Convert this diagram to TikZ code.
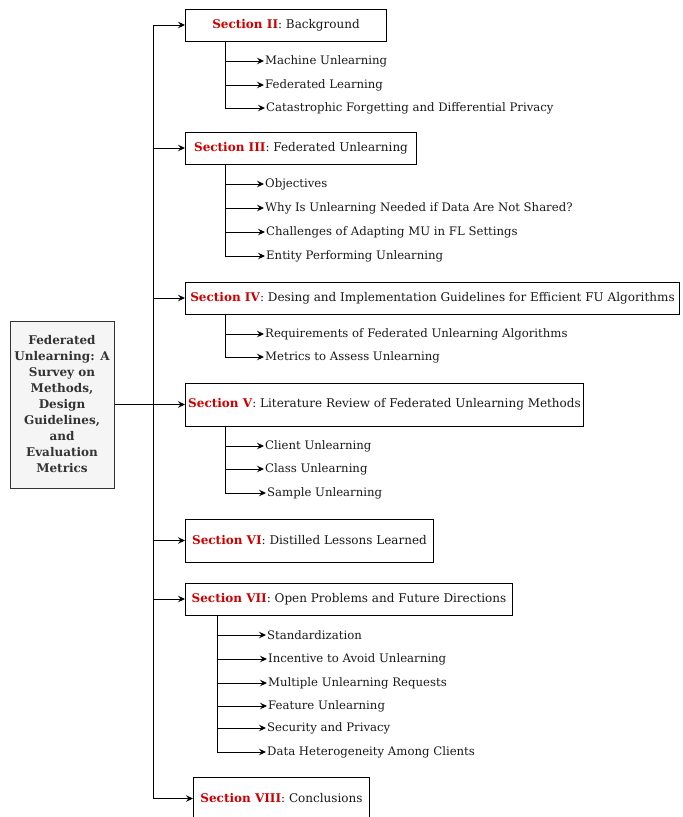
\documentclass[tikz,border=0pt]{standalone}
\usepackage{fontspec}
\setmainfont{DejaVu Serif}
\usetikzlibrary{arrows.meta}
\definecolor{secred}{HTML}{CC0000}
\newcommand{\secname}[1]{\textcolor{secred}{\textbf{Section #1}}}
\begin{document}
\begin{tikzpicture}[x=1pt,y=-1pt,
  conn/.style={line width=1pt, draw=black},
  arr/.style={conn, -{Stealth[length=7pt,width=6.5pt,inset=2.5pt]}},
  secbox/.style={draw=black, line width=1pt, fill=white, anchor=west, inner sep=0pt,
    font=\fontsize{12}{14}\selectfont, text=black!90},
  item/.style={anchor=west, inner sep=1pt, font=\fontsize{11.7}{14}\selectfont, text=black!90},
  rootbox/.style={draw=black!80, fill=black!4, line width=1pt, inner sep=2pt, align=center,
    font=\bfseries\fontsize{12}{16}\selectfont, text=black!80},
]
\useasboundingbox (0,0) rectangle (683,817);

% root
\node[rootbox, minimum width=104, minimum height=167] (root) at (62,404.5)
  {Federated\\Unlearning: A\\Survey on\\Methods,\\Design\\Guidelines,\\and\\Evaluation\\Metrics};

% section boxes
\node[secbox, minimum width=201, minimum height=32] (s2) at (185,25) {\secname{II}: Background};
\node[secbox, minimum width=231, minimum height=32] (s3) at (185,148) {\secname{III}: Federated Unlearning};
\node[secbox, minimum width=494, minimum height=32] (s4) at (185,298) {\secname{IV}: Desing and Implementation Guidelines for Efficient FU Algorithms};
\node[secbox, minimum width=398, minimum height=43] (s5) at (185,404.5) {\secname{V}: Literature Review of Federated Unlearning Methods};
\node[secbox, minimum width=248, minimum height=43] (s6) at (185,540.5) {\secname{VI}: Distilled Lessons Learned};
\node[secbox, minimum width=327, minimum height=32] (s7) at (185,599) {\secname{VII}: Open Problems and Future Directions};
\node[secbox, minimum width=176, minimum height=43] (s8) at (193,798.5) {\secname{VIII}: Conclusions};

% items
\node[item] (i21) at (264,61) {Machine Unlearning};
\node[item] (i22) at (264,85) {Federated Learning};
\node[item] (i23) at (265,108) {Catastrophic Forgetting and Differential Privacy};

\node[item] (i31) at (264,184) {Objectives};
\node[item] (i32) at (264,208) {Why Is Unlearning Needed if Data Are Not Shared?};
\node[item] (i33) at (265,232) {Challenges of Adapting MU in FL Settings};
\node[item] (i34) at (265,256) {Entity Performing Unlearning};

\node[item] (i41) at (264,334) {Requirements of Federated Unlearning Algorithms};
\node[item] (i42) at (264,357) {Metrics to Assess Unlearning};

\node[item] (i51) at (264,446) {Client Unlearning};
\node[item] (i52) at (264,469) {Class Unlearning};
\node[item] (i53) at (266,493) {Sample Unlearning};

\node[item] (i71) at (266,635) {Standardization};
\node[item] (i72) at (267,659) {Incentive to Avoid Unlearning};
\node[item] (i73) at (267,683) {Multiple Unlearning Requests};
\node[item] (i74) at (267,706) {Feature Unlearning};
\node[item] (i75) at (266,728) {Security and Privacy};
\node[item] (i76) at (266,752) {Data Heterogeneity Among Clients};

% trunk
\coordinate (t2) at (153,25);
\coordinate (t3) at (153,148);
\coordinate (t4) at (153,298);
\coordinate (t6) at (153,540.5);
\coordinate (t7) at (153,599);
\coordinate (t8) at (153,798.5);
\draw[conn] (t2) -- (t8);
\draw[arr] (t2) -- (s2.west);
\draw[arr] (t3) -- (s3.west);
\draw[arr] (t4) -- (s4.west);
\draw[arr] (root.east) -- (s5.west);
\draw[arr] (t6) -- (s6.west);
\draw[arr] (t7) -- (s7.west);
\draw[arr] (t8) -- (s8.west);

% branches
\coordinate (b2) at (225,41);
\coordinate (b3) at (225,164);
\coordinate (b4) at (225,314);
\coordinate (b5) at (225,426);
\coordinate (b7) at (217,615);
\foreach \i in {1,2,3} {\draw[arr] (b2) |- (i2\i.west);}
\foreach \i in {1,2,3,4} {\draw[arr] (b3) |- (i3\i.west);}
\foreach \i in {1,2} {\draw[arr] (b4) |- (i4\i.west);}
\foreach \i in {1,2,3} {\draw[arr] (b5) |- (i5\i.west);}
\foreach \i in {1,...,6} {\draw[arr] (b7) |- (i7\i.west);}
\end{tikzpicture}
\end{document}
